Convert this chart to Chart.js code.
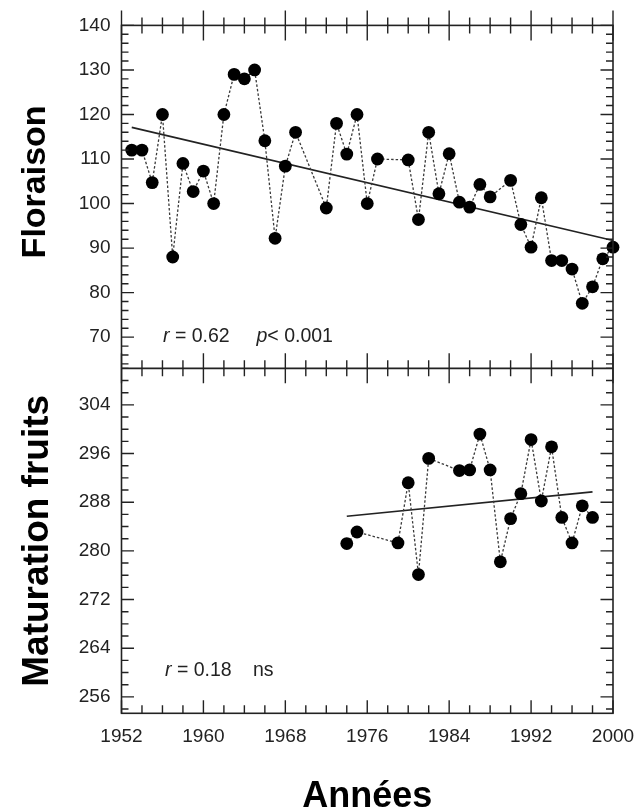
<!DOCTYPE html>
<html>
<head>
<meta charset="utf-8">
<script src="https://cdn.jsdelivr.net/npm/chart.js@4.4.1/dist/chart.umd.min.js"></script>
<style>
  html, body { margin: 0; padding: 0; background: #fff; }
  canvas { display: block; }
</style>
</head>
<body>
<canvas id="chart" width="642" height="810"></canvas>
<script>
'use strict';

// Floraison (top panel)
const floYears = [1953, 1954, 1955, 1956, 1957, 1958, 1959, 1960, 1961, 1962, 1963, 1964, 1965, 1966, 1967, 1968, 1969,
  1972, 1973, 1974, 1975, 1976, 1977, 1980, 1981, 1982, 1983, 1984, 1985, 1986, 1987, 1988,
  1990, 1991, 1992, 1993, 1994, 1995, 1996, 1997, 1998, 1999, 2000];
const floValues = [112, 112, 104.7, 120, 88, 109, 102.7, 107.3, 100, 120, 129, 128, 130, 114.1, 92.2, 108.4, 116,
  99, 118, 111.1, 120, 100, 110, 109.8, 96.4, 116, 102.2, 111.2, 100.3, 99.2, 104.3, 101.5,
  105.2, 95.3, 90.2, 101.3, 87.2, 87.2, 85.3, 77.6, 81.3, 87.6, 90.2];
const floTrendYears = [1953, 2000];
const floTrendValues = [117.1, 91.7];

// Maturation fruits (bottom panel)
const matYears = [1974, 1975, 1979, 1980, 1981, 1982, 1985, 1986, 1987, 1988, 1989, 1990, 1991, 1992, 1993, 1994,
  1995, 1996, 1997, 1998];
const matValues = [281.2, 283.1, 281.3, 291.2, 276.1, 295.2, 293.2, 293.3, 299.2, 293.3, 278.2, 285.3, 289.4, 298.3,
  288.2, 297.1, 285.5, 281.3, 287.4, 285.5];
const matTrendYears = [1974, 1998];
const matTrendValues = [285.7, 289.7];

// tick labels
const yearTicks = [1952, 1960, 1968, 1976, 1984, 1992, 2000];
const floTicks = [70, 80, 90, 100, 110, 120, 130, 140];
const matTicks = [256, 264, 272, 280, 288, 296, 304];

const INK = '#222';
const FONT = '"Liberation Sans", Arial, Helvetica, sans-serif';

const pts = (xs, ys) => xs.map((x, i) => ({ x, y: ys[i] }));

const series = (data, axis) => ({
  data, yAxisID: axis, clip: false,
  borderColor: '#3a3a3a', borderWidth: 1.3, borderDash: [2.5, 2],
  pointRadius: 6.4, pointBackgroundColor: '#000', pointBorderWidth: 0, tension: 0
});
const trend = (data, axis) => ({
  data, yAxisID: axis, clip: false,
  borderColor: INK, borderWidth: 1.6, pointRadius: 0, tension: 0
});

// frame, inward/crossing tick marks, Floraison title and r/p annotations
const framePlugin = {
  id: 'frame',
  afterDraw(chart) {
    const { ctx, chartArea: a, scales } = chart;
    const xs = scales.x, yt = scales.yTop, yb = scales.yBot;
    const mid = yt.bottom;
    ctx.save();
    ctx.strokeStyle = INK;
    ctx.lineWidth = 1.6;
    ctx.lineCap = 'butt';
    ctx.strokeRect(a.left, a.top, a.right - a.left, a.bottom - a.top);
    ctx.beginPath();
    ctx.moveTo(a.left, mid); ctx.lineTo(a.right, mid);
    ctx.stroke();

    ctx.lineWidth = 1.4;
    ctx.beginPath();
    for (let v = xs.min; v <= xs.max; v += 2) {
      const px = xs.getPixelForValue(v);
      const major = (v - 1952) % 8 === 0;
      const h = major ? 15 : 8;
      ctx.moveTo(px, a.top - h); ctx.lineTo(px, a.top + h);
      ctx.moveTo(px, mid - h); ctx.lineTo(px, mid + h);
      ctx.moveTo(px, a.bottom); ctx.lineTo(px, a.bottom - (major ? 13 : 8));
    }
    const yTicks = (scale, isMajor) => {
      for (let v = Math.ceil(scale.min / 2) * 2; v <= scale.max; v += 2) {
        const py = scale.getPixelForValue(v);
        const w = isMajor(v) ? 12.5 : 7;
        ctx.moveTo(a.left, py); ctx.lineTo(a.left + w, py);
        ctx.moveTo(a.right, py); ctx.lineTo(a.right - w, py);
      }
    };
    yTicks(yt, v => v % 10 === 0);
    yTicks(yb, v => v % 8 === 0);
    ctx.stroke();

    // y title of the top panel (sits a little above the panel centre)
    ctx.save();
    ctx.translate(36, (yt.top + yt.bottom) / 2 - 15);
    ctx.rotate(-Math.PI / 2);
    ctx.fillStyle = '#000';
    ctx.font = 'bold 34px ' + FONT;
    ctx.textAlign = 'center';
    ctx.textBaseline = 'middle';
    ctx.fillText('Floraison', 0, 0);
    ctx.restore();

    // statistics text
    const line = (x, y, parts) => {
      ctx.textBaseline = 'middle';
      ctx.textAlign = 'left';
      for (const [txt, style] of parts) {
        ctx.font = style + ' 19.5px ' + FONT;
        ctx.fillText(txt, x, y);
        x += ctx.measureText(txt).width;
      }
    };
    ctx.fillStyle = INK;
    const yA = yt.getPixelForValue(70.2), yB = yb.getPixelForValue(260.3);
    line(a.left + 41.5, yA, [['r', 'italic'], [' = 0.62', 'normal']]);
    line(a.left + 135, yA, [['p', 'italic'], ['< 0.001', 'normal']]);
    line(a.left + 43.5, yB, [['r', 'italic'], [' = 0.18', 'normal']]);
    line(a.left + 131.5, yB, [['ns', 'normal']]);
    ctx.restore();
  }
};

const fixTicks = values => scale => { scale.ticks = values.map(value => ({ value })); };

new Chart(document.getElementById('chart'), {
  type: 'line',
  data: {
    datasets: [
      series(pts(floYears, floValues), 'yTop'),
      series(pts(matYears, matValues), 'yBot'),
      trend(pts(floTrendYears, floTrendValues), 'yTop'),
      trend(pts(matTrendYears, matTrendValues), 'yBot')
    ]
  },
  options: {
    responsive: false,
    animation: false,
    events: [],
    layout: { padding: { top: 25.4, right: 29, bottom: 0, left: 0 } },
    plugins: { legend: { display: false }, tooltip: { enabled: false } },
    scales: {
      x: {
        type: 'linear', min: 1952, max: 2000,
        grid: { display: false, drawTicks: false }, border: { display: false },
        afterBuildTicks: fixTicks(yearTicks),
        afterFit: s => { s.height = 96.7; s.paddingLeft = 0; s.paddingRight = 0; },
        ticks: { color: INK, padding: 12, font: { family: FONT, size: 19 }, callback: v => String(v) },
        title: { display: true, text: 'Années', color: '#000', padding: 0,
          font: { family: FONT, size: 36, weight: 'bold', lineHeight: 0.72 } }
      },
      yBot: {
        type: 'linear', position: 'left', stack: 'panels', stackWeight: 345,
        min: 253.3, max: 310,
        grid: { display: false, drawTicks: false }, border: { display: false },
        afterBuildTicks: fixTicks(matTicks),
        afterFit: s => { s.width = 121.5; s.paddingTop = 0; s.paddingBottom = 0; },
        ticks: { color: INK, padding: 11, font: { family: FONT, size: 19 } },
        title: { display: true, text: 'Maturation fruits', color: '#000', padding: { top: 19, bottom: 0 },
          font: { family: FONT, size: 37, weight: 'bold', lineHeight: 1 } }
      },
      yTop: {
        type: 'linear', position: 'left', stack: 'panels', stackWeight: 343,
        min: 63, max: 140,
        grid: { display: false, drawTicks: false }, border: { display: false },
        afterBuildTicks: fixTicks(floTicks),
        afterFit: s => { s.width = 121.5; s.paddingTop = 0; s.paddingBottom = 0; },
        ticks: { color: INK, padding: 11, font: { family: FONT, size: 19 } }
      }
    }
  },
  plugins: [framePlugin]
});
</script>
</body>
</html>
